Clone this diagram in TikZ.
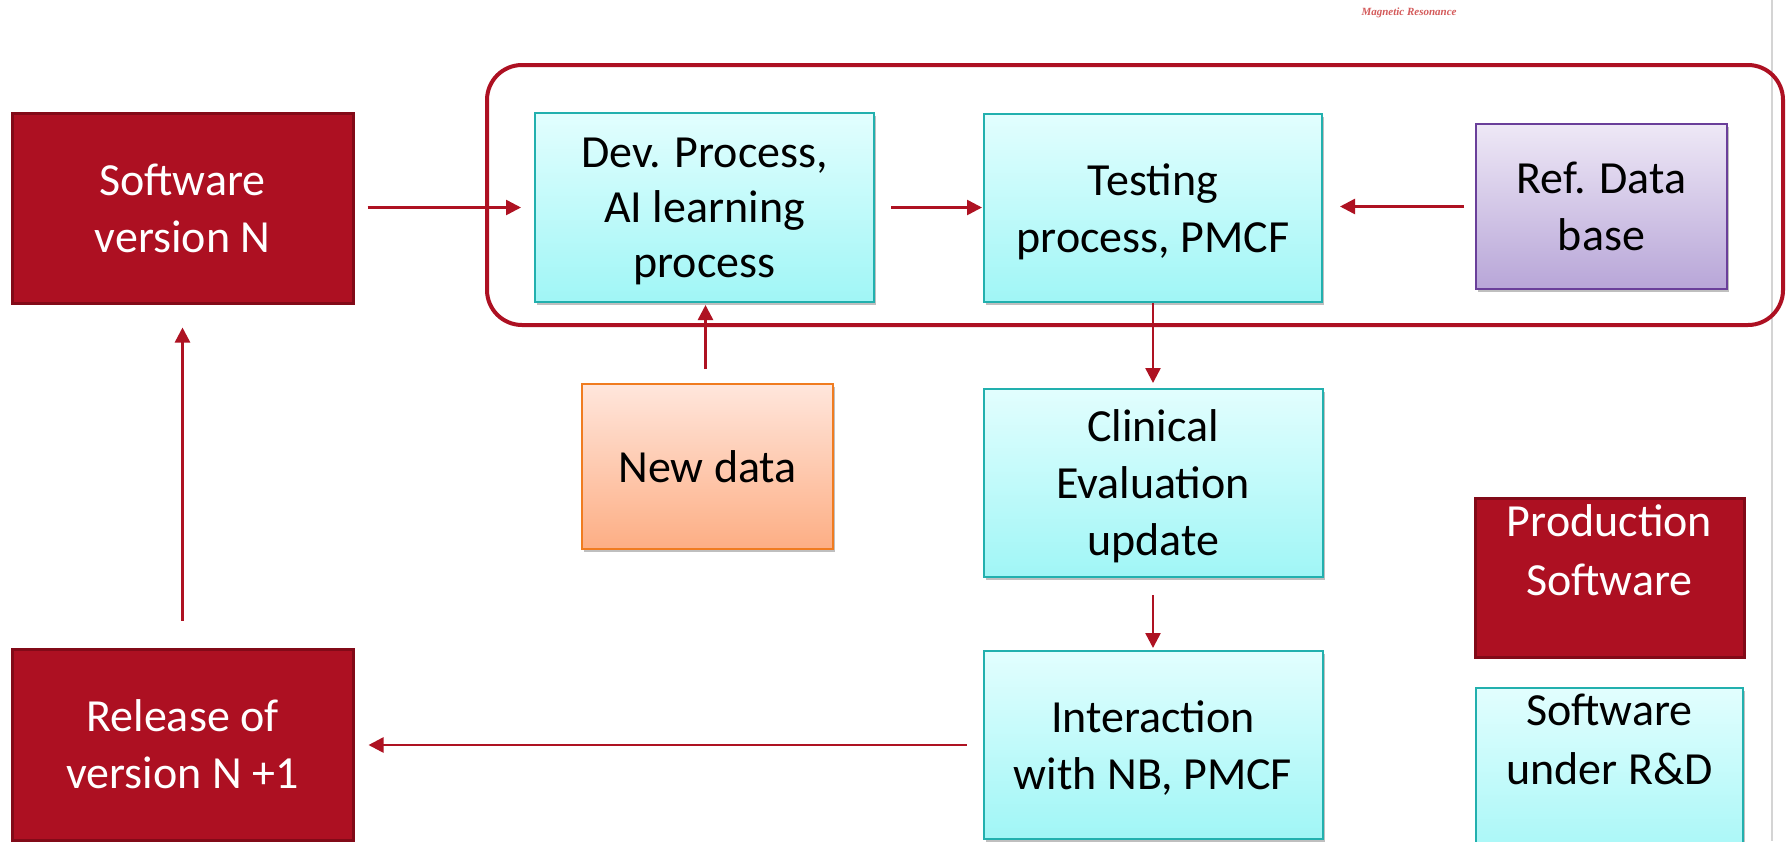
\documentclass[tikz,border=0pt]{standalone}
\usepackage{fontspec}
\setmainfont{Carlito}
\newfontfamily\logofont{Liberation Serif}
\usetikzlibrary{arrows.meta,shadows}
\definecolor{cred}{HTML}{AD1022}
\definecolor{credd}{HTML}{820A18}
\definecolor{arrc}{HTML}{AE1222}
\definecolor{cytop}{HTML}{E2FEFE}
\definecolor{cybot}{HTML}{A0F6F6}
\definecolor{cyedge}{HTML}{22B0AE}
\definecolor{putop}{HTML}{EEE8F6}
\definecolor{pubot}{HTML}{B8A6D8}
\definecolor{puedge}{HTML}{6A3F9A}
\definecolor{ortop}{HTML}{FFE6DC}
\definecolor{orbot}{HTML}{FDAE84}
\definecolor{oredge}{HTML}{F07C20}
\definecolor{logoc}{HTML}{D45A5A}
\definecolor{sepgray}{HTML}{D4D4D4}
\tikzset{
  box/.style={rectangle, align=center, inner sep=0pt,
    font=\fontsize{46}{57}\selectfont},
  redbox/.style={box, fill=cred, draw=credd, line width=3pt, text=white},
  shbox/.style={box, line width=2pt,
    drop shadow={shadow xshift=2pt, shadow yshift=-3pt, opacity=0.25, fill=black}},
  cyanbox/.style={shbox, draw=cyedge, top color=cytop, bottom color=cybot, text depth=0pt},
  purplebox/.style={shbox, draw=puedge, top color=putop, bottom color=pubot},
  orangebox/.style={shbox, draw=oredge, top color=ortop, bottom color=orbot},
  arr/.style={draw=arrc, line width=2.5pt, -{Triangle[length=15pt,width=15pt]}},
  txt/.style={align=center, inner sep=0pt, font=\fontsize{46}{59}\selectfont}
}
\begin{document}
\begin{tikzpicture}[x=1pt,y=-1pt]
\useasboundingbox (0,0) rectangle (1787,841);
\fill[white] (0,0) rectangle (1787,841);

% separator line at right
\draw[sepgray, line width=2pt] (1772,0) -- (1772,841);

% logo text
\node[inner sep=0pt, text=logoc, font=\logofont\bfseries\itshape\fontsize{11}{13}\selectfont] (logo) at (1409,13) {Magnetic Resonance};

% group frame
\node[draw=cred, line width=4pt, rounded corners=35pt, minimum width=1296pt, minimum height=260pt, inner sep=0pt] (grp) at (1135,195) {};

% nodes
\node[redbox, minimum width=341pt, minimum height=190pt] (swn) at (182.5,208) {Software\\version N};
\node[redbox, minimum width=341pt, minimum height=191pt] (rel) at (182.5,744.5) {Release of\\version N +1};
\node[cyanbox, minimum width=339pt, minimum height=189pt, font=\fontsize{46}{55}\selectfont] (dev) at (704.5,207.5) {Dev. Process,\\AI learning\\process};
\node[cyanbox, minimum width=338pt, minimum height=188pt] (test) at (1153,208) {Testing\\process, PMCF};
\node[cyanbox, minimum width=339pt, minimum height=188pt] (clin) at (1153,483) {Clinical\\Evaluation\\update};
\node[cyanbox, minimum width=339pt, minimum height=188pt] (inter) at (1153,745) {Interaction\\with NB, PMCF};
\node[orangebox, minimum width=251pt, minimum height=165pt] (newd) at (707.5,466.5) {New data};
\node[purplebox, minimum width=251pt, minimum height=165pt] (ref) at (1601.5,206.5) {Ref. Data\\base};

% legend boxes
\node[redbox, minimum width=269pt, minimum height=159pt] (prod) at (1609.5,577.5) {};
\node[txt, text=white, anchor=north] (prodt) at ([yshift=-8pt]prod.north) {Production\\Software};
\node[cyanbox, minimum width=267pt, minimum height=190pt] (rnd) at (1609.5,783) {};
\node[txt, anchor=north] (rndt) at ([yshift=-7pt]rnd.north) {Software\\under R\&D};

% connectors
\draw[arr, shorten <=13pt, shorten >=13pt] (swn.east |- dev.west) -- (dev.west);
\draw[arr, shorten <=16pt, shorten >=1pt] (dev.east) -- (dev.east -| test.west);
\draw[arr, shorten <=11pt, shorten >=17pt] (ref.west) -- (ref.west -| test.east);
\draw[arr, shorten >=5pt] (test.south) -- (clin.north);
\draw[arr, shorten <=17pt, shorten >=2pt] (clin.south) -- (inter.north);
\draw[arr, shorten <=16pt, shorten >=14pt] (inter.west) -- (inter.west -| rel.east);
\draw[arr, shorten <=27pt, shorten >=23pt] (rel.north) -- (swn.south);
\draw[arr, shorten <=14pt, shorten >=2pt] ([xshift=-2pt]newd.north) -- ([xshift=-2pt]newd.north |- dev.south);
\end{tikzpicture}
\end{document}
